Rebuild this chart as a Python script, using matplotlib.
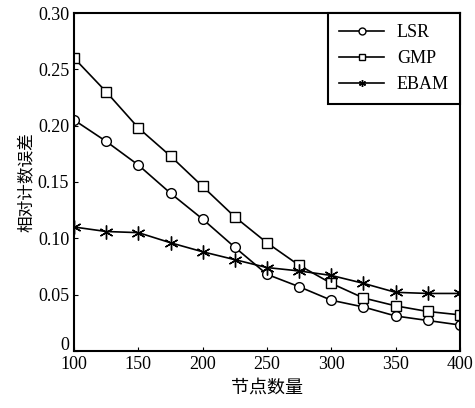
import matplotlib
matplotlib.use("Agg")
import matplotlib.pyplot as plt
import matplotlib.transforms as mtransforms

# data
nodes = [100, 125, 150, 175, 200, 225, 250, 275, 300, 325, 350, 375, 400]
lsr = [0.205, 0.186, 0.165, 0.140, 0.117, 0.092, 0.068, 0.057, 0.045, 0.039, 0.031, 0.027, 0.023]
gmp = [0.260, 0.230, 0.198, 0.173, 0.146, 0.119, 0.096, 0.076, 0.060, 0.047, 0.040, 0.035, 0.032]
ebam = [0.110, 0.106, 0.105, 0.096, 0.088, 0.081, 0.074, 0.071, 0.067, 0.060, 0.052, 0.051, 0.051]
xticks = [100, 150, 200, 250, 300, 350, 400]
yticks = [0, 0.05, 0.10, 0.15, 0.20, 0.25, 0.30]
ytick_labels = ["0", "0.05", "0.10", "0.15", "0.20", "0.25", "0.30"]

serif = ["Liberation Serif", "DejaVu Serif"]
cjk = ["Noto Sans CJK SC", "DejaVu Sans"]
plt.rcParams["font.family"] = serif

fig = plt.figure(figsize=(4.75, 4.08), dpi=100)
ax = fig.add_axes([0.156, 0.140, 0.812, 0.828])

lw = 1.2
ax.plot(nodes, lsr, color="black", lw=lw, marker="o", ms=7, mfc="white", mec="black", mew=1.0, label="LSR")
ax.plot(nodes, gmp, color="black", lw=lw, marker="s", ms=7, mfc="white", mec="black", mew=1.0, label="GMP")
ax.plot(nodes, ebam, color="black", lw=lw, marker=(6, 2, 0), ms=10, mec="black", mew=1.0, label="EBAM")

ax.set_xlim(100, 400)
ax.set_ylim(0, 0.30)
ax.set_xticks(xticks)
ax.set_yticks(yticks)
ax.set_yticklabels(ytick_labels)
ax.tick_params(direction="in", length=3, labelsize=13, colors="black")
ax.tick_params(axis="x", pad=4)
for s in ax.spines.values():
    s.set_linewidth(1.5)

# the "0" on the y axis sits a little above the corner, as in the reference
lab0 = ax.get_yticklabels()[0]
lab0.set_transform(lab0.get_transform() + mtransforms.ScaledTranslation(0, 5 / 72, fig.dpi_scale_trans))

ax.set_xlabel("节点数量", family=cjk, fontsize=13, labelpad=4)
ax.set_ylabel("相对计数误差", family=cjk, fontsize=12, labelpad=2)

leg = ax.legend(loc="upper right", fontsize=13, handlelength=2.5, handletextpad=0.7,
                borderaxespad=0.0, borderpad=0.6, labelspacing=0.5,
                fancybox=False, edgecolor="black", framealpha=1)
leg.get_frame().set_linewidth(1.5)
for h in leg.legend_handles:
    h.set_markersize(5)

fig.savefig("out.png", dpi=100)
